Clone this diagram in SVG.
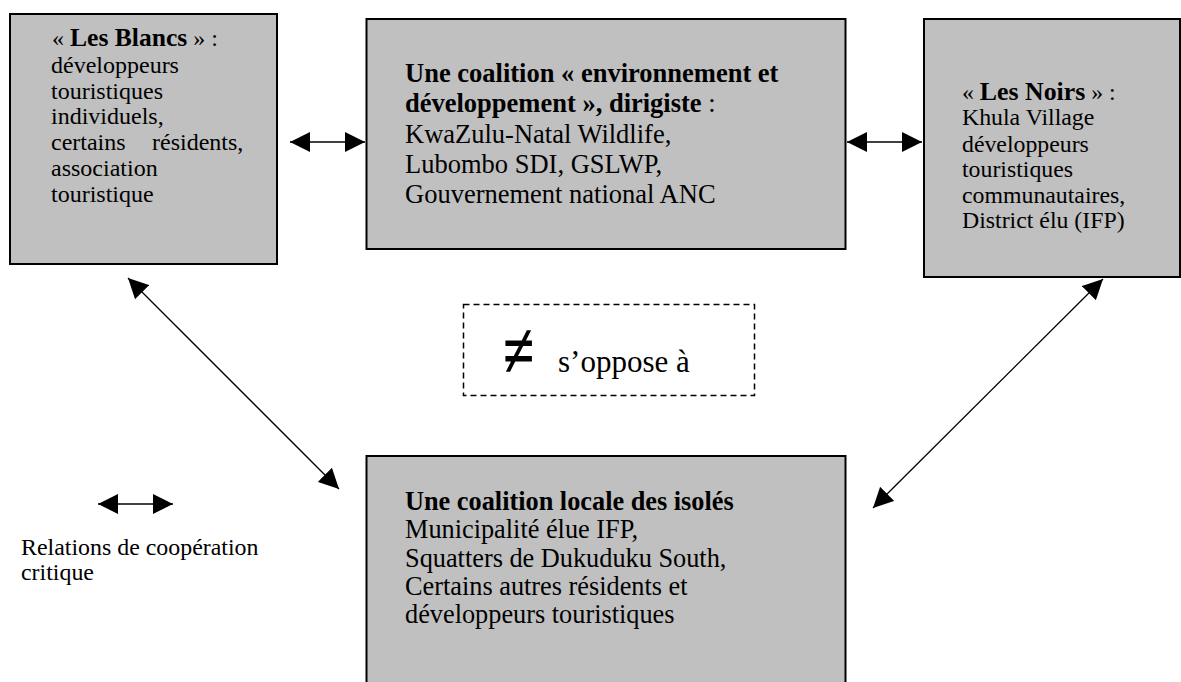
<svg xmlns="http://www.w3.org/2000/svg" width="1181" height="682" viewBox="0 0 1181 682">
<style>
.box{fill:#c0c0c0;stroke:#000;stroke-width:2}
.t{font-family:"Liberation Serif","Times New Roman",serif;fill:#000}
.b{font-weight:bold}
.arr{stroke:#000;fill:none;marker-start:url(#ah);marker-end:url(#ah)}
</style>
<defs>
<marker id="ah" viewBox="0 0 20 20" refX="20" refY="10" markerWidth="20" markerHeight="20" markerUnits="userSpaceOnUse" orient="auto-start-reverse">
<path d="M0,0 L20,10 L0,20 Z" fill="#000"/>
</marker>
</defs>
<rect width="1181" height="682" fill="#fff"/>
<g id="blancs">
<rect class="box" x="10" y="14" width="267" height="250"/>
<text class="t" font-size="24">
<tspan x="52" y="46">« <tspan class="b" font-size="25.6">Les Blancs</tspan> » :</tspan>
<tspan x="51" y="73">développeurs</tspan>
<tspan x="51" y="99">touristiques</tspan>
<tspan x="51" y="124">individuels,</tspan>
<tspan x="51" y="150">certains</tspan>
<tspan x="152" y="150">résidents,</tspan>
<tspan x="51" y="176">association</tspan>
<tspan x="51" y="202">touristique</tspan>
</text>
</g>
<g id="coalition-env">
<rect class="box" x="366.5" y="19" width="479" height="230"/>
<text class="t" font-size="26.5">
<tspan x="405" y="82" class="b">Une coalition « environnement et</tspan>
<tspan x="405" y="112"><tspan class="b">développement », dirigiste</tspan> :</tspan>
<tspan x="405" y="143">KwaZulu-Natal Wildlife,</tspan>
<tspan x="405" y="173">Lubombo SDI, GSLWP,</tspan>
<tspan x="405" y="203">Gouvernement national ANC</tspan>
</text>
</g>
<g id="noirs">
<rect class="box" x="924" y="19" width="256" height="258"/>
<text class="t" font-size="23.8">
<tspan x="962" y="100">« <tspan class="b" font-size="25.8">Les Noirs</tspan> » :</tspan>
<tspan x="962" y="125">Khula Village</tspan>
<tspan x="962" y="152">développeurs</tspan>
<tspan x="962" y="177">touristiques</tspan>
<tspan x="962" y="203">communautaires,</tspan>
<tspan x="962" y="228">District élu (IFP)</tspan>
</text>
</g>
<g id="isoles">
<rect class="box" x="366.5" y="456" width="479" height="240"/>
<text class="t" font-size="26.3">
<tspan x="405" y="510" class="b">Une coalition locale des isolés</tspan>
<tspan x="405" y="538">Municipalité élue IFP,</tspan>
<tspan x="405" y="567">Squatters de Dukuduku South,</tspan>
<tspan x="405" y="595">Certains autres résidents et</tspan>
<tspan x="405" y="623">développeurs touristiques</tspan>
</text>
</g>
<g id="legende-oppose">
<rect x="463.5" y="304.5" width="291" height="91" fill="none" stroke="#000" stroke-width="1.5" stroke-dasharray="6,4"/>
<text class="t" font-size="57" font-weight="bold" transform="translate(503,377) scale(1,1.38)">≠</text>
<text class="t" x="558" y="372" font-size="31">s’oppose à</text>
</g>
<g id="legende-cooperation">
<text class="t" font-size="23.9">
<tspan x="21" y="555">Relations de coopération</tspan>
<tspan x="21" y="580">critique</tspan>
</text>
</g>
<g id="connectors">
<line class="arr" x1="290" y1="142" x2="365" y2="142" stroke-width="1.6"/>
<line class="arr" x1="847" y1="142" x2="922" y2="142" stroke-width="1.6"/>
<line class="arr" x1="128" y1="278" x2="339" y2="489" stroke-width="1.3"/>
<line class="arr" x1="1103" y1="279" x2="873" y2="508" stroke-width="1.3"/>
<line class="arr" x1="98" y1="504" x2="173" y2="504" stroke-width="1.6"/>
</g>
</svg>
